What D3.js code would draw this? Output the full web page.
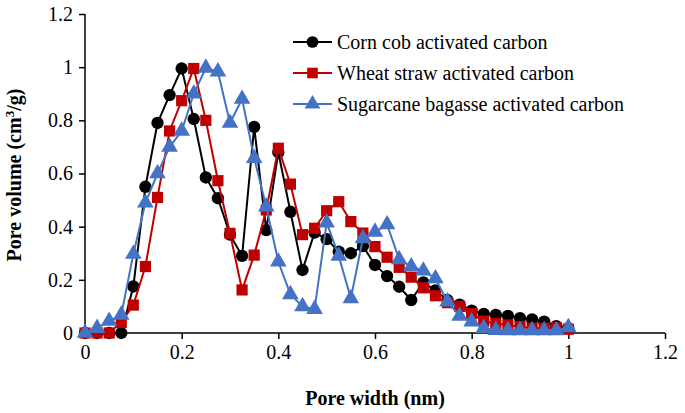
<!DOCTYPE html>
<html><head><meta charset="utf-8">
<script src="https://cdn.jsdelivr.net/npm/d3@7"></script>
<style>body{margin:0;background:#fff}svg{display:block}text{font-family:"Liberation Serif","Times New Roman",serif}</style>
</head><body><svg id="c" width="685" height="413"></svg>
<script>
const poreWidth = [0,0.025,0.05,0.075,0.1,0.125,0.15,0.175,0.2,0.225,0.25,0.275,0.3,0.325,0.35,0.375,0.4,0.425,0.45,0.475,0.5,0.525,0.55,0.575,0.6,0.625,0.65,0.675,0.7,0.725,0.75,0.775,0.8,0.825,0.85,0.875,0.9,0.925,0.95,0.975,1.0];
const cornCob = [0,0,0,0,0.175,0.55,0.79,0.895,0.995,0.805,0.585,0.507,0.37,0.29,0.775,0.387,0.68,0.456,0.237,0.378,0.353,0.306,0.30,0.327,0.256,0.214,0.174,0.124,0.19,0.16,0.124,0.107,0.084,0.072,0.068,0.064,0.056,0.051,0.043,0.026,0.018];
const wheatStraw = [0,0,0,0.04,0.105,0.25,0.51,0.76,0.874,0.995,0.80,0.573,0.375,0.162,0.293,0.463,0.695,0.56,0.37,0.394,0.46,0.494,0.419,0.376,0.325,0.285,0.247,0.21,0.17,0.14,0.114,0.1,0.073,0.045,0.036,0.03,0.024,0.018,0.018,0.02,0.014];
const sugarcane = [0,0.018,0.045,0.068,0.297,0.49,0.60,0.70,0.76,0.9,0.997,0.983,0.79,0.88,0.658,0.475,0.268,0.145,0.1,0.09,0.415,0.29,0.13,0.356,0.38,0.408,0.277,0.25,0.234,0.205,0.118,0.064,0.043,0.018,0.011,0.01,0.01,0.01,0.01,0.01,0.021];
const seriesNames = ["Corn cob activated carbon","Wheat straw activated carbon","Sugarcane bagasse activated carbon"];
const xTicks = [0,0.2,0.4,0.6,0.8,1,1.2];
const yTicks = [0,0.2,0.4,0.6,0.8,1,1.2];

const svg = d3.select("#c");
const x = d3.scaleLinear().domain([0,1.2]).range([85,665]);
const y = d3.scaleLinear().domain([0,1.2]).range([333,14]);

const series = [
  {name:seriesNames[0], vals:cornCob, color:"#000000", sym:d3.symbolCircle, size:120},
  {name:seriesNames[1], vals:wheatStraw, color:"#C00000", sym:d3.symbolSquare, size:125},
  {name:seriesNames[2], vals:sugarcane, color:"#4472C4", sym:d3.symbolTriangle, size:120}
];

// axes
const xAxis = d3.axisBottom(x).tickValues(xTicks).tickFormat(d=>String(d)).tickSize(6).tickPadding(6);
const yAxis = d3.axisLeft(y).tickValues(yTicks).tickFormat(d=>String(d)).tickSize(6).tickPadding(6);
const gx = svg.append("g").attr("transform","translate(0,333)").call(xAxis);
const gy = svg.append("g").attr("transform","translate(85,0)").call(yAxis);
[gx,gy].forEach(g=>{
  g.select(".domain").attr("stroke","#000").attr("stroke-width",1.5);
  g.selectAll(".tick line").attr("stroke","#000").attr("stroke-width",1.5);
  g.selectAll(".tick text").attr("fill","#000").style("font-size","20px").style("font-family",'"Liberation Serif","Times New Roman",serif');
});
gy.select(".domain").attr("d","M0,333V14");
gx.select(".domain").attr("d","M85,0H665");

const line = d3.line().x((d,i)=>x(poreWidth[i])).y(d=>y(d));
series.forEach(s=>{
  svg.append("path").attr("d",line(s.vals)).attr("fill","none").attr("stroke",s.color).attr("stroke-width",2);
  svg.append("g").selectAll("path").data(s.vals).join("path")
    .attr("transform",(d,i)=>`translate(${x(poreWidth[i])},${y(d)})`)
    .attr("d",d3.symbol().type(s.sym).size(s.size)).attr("fill",s.color);
});

// legend
const ly = [42,73,104];
series.forEach((s,i)=>{
  const g = svg.append("g").attr("transform",`translate(0,${ly[i]})`);
  g.append("line").attr("x1",293).attr("x2",332).attr("stroke",s.color).attr("stroke-width",2);
  g.append("path").attr("transform","translate(312.5,0)").attr("d",d3.symbol().type(s.sym).size(s.size*0.9)).attr("fill",s.color);
  g.append("text").attr("x",337).attr("y",7).style("font-size","20px").attr("fill","#000").text(s.name);
});

// axis titles
svg.append("text").attr("x",375).attr("y",405).attr("text-anchor","middle").style("font-size","20px").style("font-weight","bold").text("Pore width (nm)");
const yt = svg.append("text").attr("transform","translate(21,175) rotate(-90)").attr("text-anchor","middle").style("font-size","20px").style("font-weight","bold");
yt.append("tspan").text("Pore volume (cm");
yt.append("tspan").attr("dy",-7).style("font-size","13px").text("3");
yt.append("tspan").attr("dy",7).text("/g)");
</script></body></html>
